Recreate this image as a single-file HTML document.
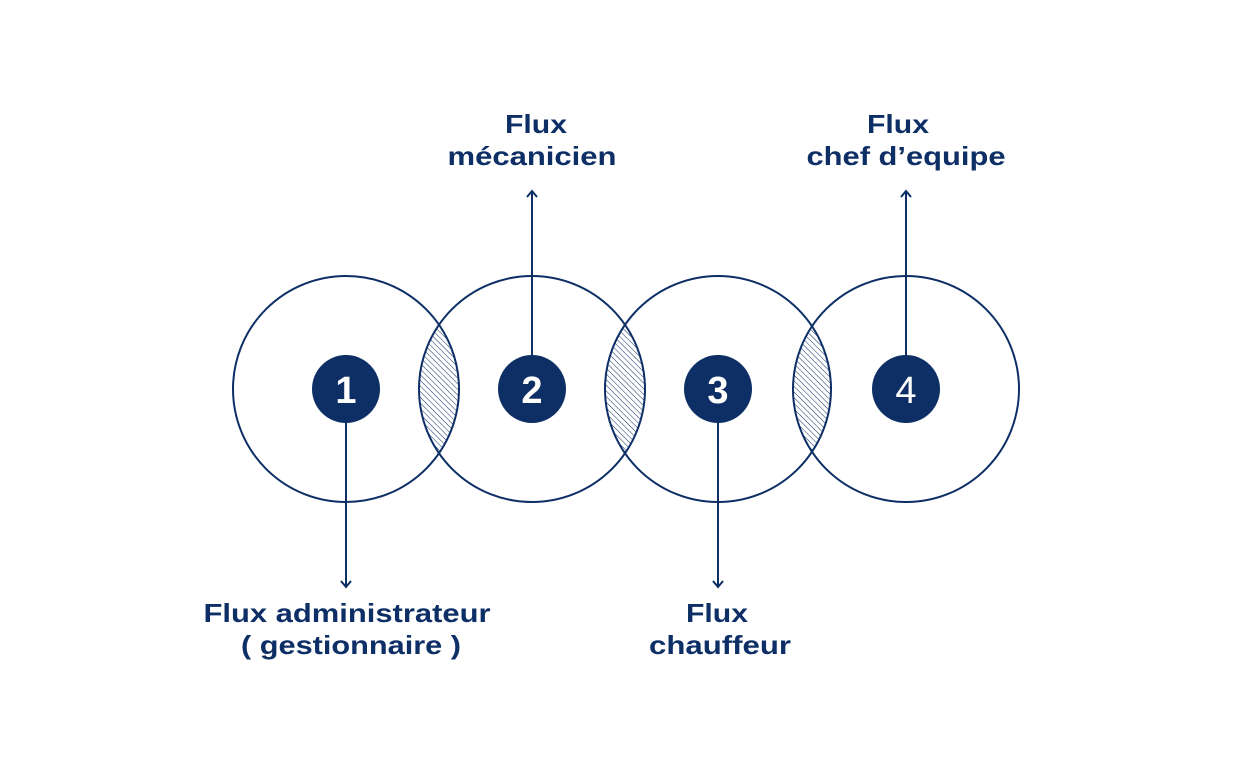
<!DOCTYPE html>
<html><head><meta charset="utf-8"><style>
html,body{margin:0;padding:0;background:#fff;}
svg{display:block}
text{font-family:"Liberation Sans",sans-serif;font-weight:bold;fill:#0d2f66;}
</style></head><body>
<svg width="1251" height="776" viewBox="0 0 1251 776" xmlns="http://www.w3.org/2000/svg">
<defs>
<pattern id="h" patternUnits="userSpaceOnUse" width="4" height="4" patternTransform="rotate(-45)">
<line x1="0" y1="0" x2="0" y2="4" stroke="#0d2f66" stroke-width="1"/>
</pattern>
<clipPath id="c1"><circle cx="346" cy="389" r="113"/></clipPath>
<clipPath id="c2"><circle cx="532" cy="389" r="113"/></clipPath>
<clipPath id="c3"><circle cx="718" cy="389" r="113"/></clipPath>
</defs>
<g clip-path="url(#c1)"><circle cx="532" cy="389" r="113" fill="url(#h)"/></g>
<g clip-path="url(#c2)"><circle cx="718" cy="389" r="113" fill="url(#h)"/></g>
<g clip-path="url(#c3)"><circle cx="906" cy="389" r="113" fill="url(#h)"/></g>
<g fill="none" stroke="#0d2f66" stroke-width="2">
<circle cx="346" cy="389" r="113"/>
<circle cx="532" cy="389" r="113"/>
<circle cx="718" cy="389" r="113"/>
<circle cx="906" cy="389" r="113"/>
<line x1="346" y1="420" x2="346" y2="587"/>
<polyline points="341,581 346,587 351,581"/>
<line x1="718" y1="420" x2="718" y2="587"/>
<polyline points="713,581 718,587 723,581"/>
<line x1="532" y1="358" x2="532" y2="191"/>
<polyline points="527,197 532,191 537,197"/>
<line x1="906" y1="358" x2="906" y2="191"/>
<polyline points="901,197 906,191 911,197"/>
</g>
<g fill="#0d2f66">
<circle cx="346" cy="389" r="34"/>
<circle cx="532" cy="389" r="34"/>
<circle cx="718" cy="389" r="34"/>
<circle cx="906" cy="389" r="34"/>
</g>
<g text-anchor="middle">
<text x="346" y="403" font-size="38" style="fill:#fff">1</text>
<text x="532" y="403" font-size="38" style="fill:#fff">2</text>
<text x="718" y="403" font-size="38" style="fill:#fff">3</text>
<text x="906" y="403" font-size="38" style="fill:#fff;font-weight:normal">4</text>
</g>
<g text-anchor="middle" font-size="26">
<text x="536" y="133" textLength="62" lengthAdjust="spacingAndGlyphs">Flux</text>
<text x="532" y="165" textLength="169" lengthAdjust="spacingAndGlyphs">mécanicien</text>
<text x="898" y="133" textLength="62" lengthAdjust="spacingAndGlyphs">Flux</text>
<text x="906" y="165" textLength="199" lengthAdjust="spacingAndGlyphs">chef d’equipe</text>
<text x="347" y="622" textLength="287" lengthAdjust="spacingAndGlyphs">Flux administrateur</text>
<text x="351" y="654" textLength="220" lengthAdjust="spacingAndGlyphs">( gestionnaire )</text>
<text x="717" y="622" textLength="62" lengthAdjust="spacingAndGlyphs">Flux</text>
<text x="720" y="654" textLength="142" lengthAdjust="spacingAndGlyphs">chauffeur</text>
</g>
</svg>
</body></html>
